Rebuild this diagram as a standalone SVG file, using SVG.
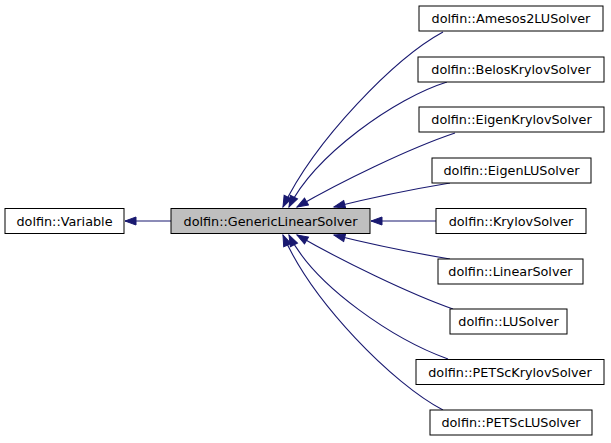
<svg xmlns="http://www.w3.org/2000/svg" width="611" height="443" viewBox="0 0 611 443">
<style>
.box rect{fill:#ffffff;stroke:#000000;stroke-width:1}
.box text{font-family:"DejaVu Sans",sans-serif;font-size:12.8px;fill:#000000;text-anchor:middle}
.edge{fill:none;stroke:#191970;stroke-width:1.1}
</style>
<defs>
<marker id="ah" markerUnits="userSpaceOnUse" markerWidth="14" markerHeight="11" refX="12" refY="5" orient="auto">
<path d="M1,1 L12,5 L1,9 Z" fill="#191970" stroke="#191970" stroke-width="1"/>
</marker>
</defs>
<rect width="611" height="443" fill="#ffffff"/>
<g id="edges">
<path class="edge" marker-end="url(#ah)" d="M171,221 L125,221"/>
<path class="edge" marker-end="url(#ah)" d="M443,32 C395,58 315,140 283,207"/>
<path class="edge" marker-end="url(#ah)" d="M447,82 C395,98 315,155 289,207"/>
<path class="edge" marker-end="url(#ah)" d="M455,133 C410,148 340,182 297,207"/>
<path class="edge" marker-end="url(#ah)" d="M450,183 C420,188 370,198 334,207"/>
<path class="edge" marker-end="url(#ah)" d="M436,221 L371,221"/>
<path class="edge" marker-end="url(#ah)" d="M450,259 C420,254 370,244 334,235"/>
<path class="edge" marker-end="url(#ah)" d="M453,309 C410,294 340,260 297,235"/>
<path class="edge" marker-end="url(#ah)" d="M448,359 C395,340 315,287 289,235"/>
<path class="edge" marker-end="url(#ah)" d="M443,410 C393,384 312,302 283,235"/>
</g>
<g id="variable" class="box"><rect x="5" y="208.5" width="119" height="25"/><text x="64.5" y="225.5">dolfin::Variable</text></g>
<g id="genericlinearsolver" class="box"><rect x="171" y="208.5" width="199" height="25" style="fill:#bfbfbf"/><text x="270.5" y="225.5">dolfin::GenericLinearSolver</text></g>
<g id="amesos2lusolver" class="box"><rect x="419" y="6" width="184" height="25"/><text x="511" y="23">dolfin::Amesos2LUSolver</text></g>
<g id="beloskrylovsolver" class="box"><rect x="418" y="57" width="186" height="25"/><text x="511" y="74">dolfin::BelosKrylovSolver</text></g>
<g id="eigenkrylovsolver" class="box"><rect x="419" y="107" width="185" height="25"/><text x="511.5" y="124">dolfin::EigenKrylovSolver</text></g>
<g id="eigenlusolver" class="box"><rect x="432" y="158" width="159" height="25"/><text x="511.5" y="175">dolfin::EigenLUSolver</text></g>
<g id="krylovsolver" class="box"><rect x="436" y="208.5" width="150" height="25"/><text x="511" y="225.5">dolfin::KrylovSolver</text></g>
<g id="linearsolver" class="box"><rect x="438" y="259" width="145" height="25"/><text x="510.5" y="276">dolfin::LinearSolver</text></g>
<g id="lusolver" class="box"><rect x="450" y="309" width="117" height="25"/><text x="508.5" y="326">dolfin::LUSolver</text></g>
<g id="petsckrylovsolver" class="box"><rect x="416" y="359.5" width="188" height="25"/><text x="510" y="376.5">dolfin::PETScKrylovSolver</text></g>
<g id="petsclusolver" class="box"><rect x="430" y="410" width="162" height="25"/><text x="511" y="427">dolfin::PETScLUSolver</text></g>
</svg>
